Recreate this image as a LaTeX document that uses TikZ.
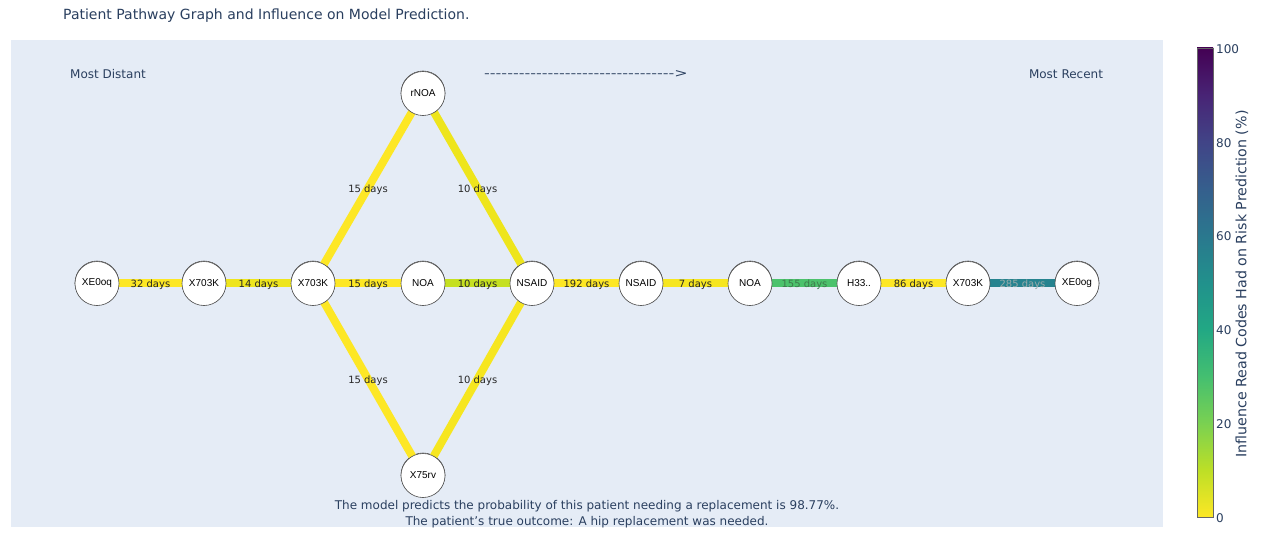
\documentclass[tikz,border=0pt]{standalone}
\usepackage{fontspec}
\setmainfont{DejaVu Sans}
\newfontfamily\nodefont{Liberation Sans}
\definecolor{bgc}{HTML}{E5ECF6}
\definecolor{txt}{HTML}{2A3F5F}
\definecolor{vA}{HTML}{440154}
\definecolor{vB}{HTML}{482475}
\definecolor{vC}{HTML}{414487}
\definecolor{vD}{HTML}{355F8D}
\definecolor{vE}{HTML}{2A788E}
\definecolor{vF}{HTML}{21918C}
\definecolor{vG}{HTML}{22A884}
\definecolor{vH}{HTML}{44BF70}
\definecolor{vI}{HTML}{7AD151}
\definecolor{vJ}{HTML}{BDDF26}
\definecolor{vK}{HTML}{FDE725}
\definecolor{eY}{HTML}{FDE725}
\definecolor{eY2}{HTML}{EEE51C}
\definecolor{eY3}{HTML}{F6E620}
\definecolor{eLime}{HTML}{C5E021}
\definecolor{eGreen}{HTML}{4CC26C}
\definecolor{eTeal}{HTML}{26838F}
\definecolor{lGreen}{HTML}{3D7A4C}
\definecolor{lGrey}{HTML}{9AABAB}
\newcommand{\dsh}{-{}}
\tikzset{
  pnode/.style={circle, draw=black!70, line width=0.6pt, fill=white, minimum size=44pt, inner sep=0pt, font=\nodefont\fontsize{10}{12}\selectfont},
  edge/.style={line width=8pt},
  elab/.style={font=\fontsize{10}{12}\selectfont, text=black!85, inner sep=1pt},
  plain/.style={font=\fontsize{12}{14}\selectfont, text=txt},
}
\begin{document}
\begin{tikzpicture}[x=1pt,y=-1pt]
\useasboundingbox (0,0) rectangle (1264,543);
\fill[white] (0,0) rectangle (1264,543);
\fill[bgc] (11,40) rectangle (1163,527);
% title
\node[anchor=west, inner sep=0pt, font=\fontsize{14}{16}\selectfont, text=txt] (title) at (63,16) {Patient Pathway Graph and Influence on Model Prediction.};
% header texts
\node[plain] (mdist) at (108,74) {Most Distant};
\node[plain] (mrec) at (1066,74) {Most Recent};
\node[plain, anchor=west, inner sep=0pt] (arrow) at (484,74) {\scalebox{1.33}[1]{\dsh\dsh\dsh\dsh\dsh\dsh\dsh\dsh\dsh\dsh\dsh\dsh\dsh\dsh\dsh\dsh\dsh\dsh\dsh\dsh\dsh\dsh\dsh\dsh\dsh\dsh\dsh\dsh\dsh\dsh\dsh\dsh\dsh{}>}};
% nodes
\node[pnode] (n1) at (97,283) {XE0oq};
\node[pnode] (n2) at (204,283) {X703K};
\node[pnode] (n3) at (313,283) {X703K};
\node[pnode] (n4) at (423,283) {NOA};
\node[pnode] (n5) at (532,283) {NSAID};
\node[pnode] (n6) at (641,283) {NSAID};
\node[pnode] (n7) at (750,283) {NOA};
\node[pnode] (n8) at (859,283) {H33..};
\node[pnode] (n9) at (968,283) {X703K};
\node[pnode] (n10) at (1077,283) {XE0og};
\node[pnode] (top) at (423,93) {rNOA};
\node[pnode] (bot) at (423,475) {X75rv};
% edges
\draw[edge, eY] (n1.center) -- (n2.center);
\draw[edge, eY2] (n2.center) -- (n3.center);
\draw[edge, eY] (n3.center) -- (n4.center);
\draw[edge, eLime] (n4.center) -- (n5.center);
\draw[edge, eY] (n5.center) -- (n6.center);
\draw[edge, eY3] (n6.center) -- (n7.center);
\draw[edge, eGreen] (n7.center) -- (n8.center);
\draw[edge, eY] (n8.center) -- (n9.center);
\draw[edge, eTeal] (n9.center) -- (n10.center);
\draw[edge, eY] (n3.center) -- (top.center);
\draw[edge, eY2] (top.center) -- (n5.center);
\draw[edge, eY] (n3.center) -- (bot.center);
\draw[edge, eY3] (bot.center) -- (n5.center);
% edge labels
\path (n1) -- node[elab, yshift=-1.5pt] {32 days} (n2);
\path (n2) -- node[elab, yshift=-1.5pt] {14 days} (n3);
\path (n3) -- node[elab, yshift=-1.5pt] {15 days} (n4);
\path (n4) -- node[elab, yshift=-1.5pt] {10 days} (n5);
\path (n5) -- node[elab, yshift=-1.5pt] {192 days} (n6);
\path (n6) -- node[elab, yshift=-1.5pt] {7 days} (n7);
\path (n7) -- node[elab, yshift=-1.5pt, text=lGreen] {155 days} (n8);
\path (n8) -- node[elab, yshift=-1.5pt] {86 days} (n9);
\path (n9) -- node[elab, yshift=-1.5pt, text=lGrey] {285 days} (n10);
\path (n3.center) -- node[elab, yshift=-1.5pt] {15 days} (top.center);
\path (top.center) -- node[elab, yshift=-1.5pt] {10 days} (n5.center);
\path (n3.center) -- node[elab, yshift=-1.5pt] {15 days} (bot.center);
\path (bot.center) -- node[elab, yshift=-1.5pt] {10 days} (n5.center);
% redraw nodes on top
\node[pnode, yshift=-0.5pt] at (n1) {XE0oq};
\node[pnode, yshift=-0.5pt] at (n2) {X703K};
\node[pnode, yshift=-0.5pt] at (n3) {X703K};
\node[pnode, yshift=-0.5pt] at (n4) {NOA};
\node[pnode, yshift=-0.5pt] at (n5) {NSAID};
\node[pnode, yshift=-0.5pt] at (n6) {NSAID};
\node[pnode, yshift=-0.5pt] at (n7) {NOA};
\node[pnode, yshift=-0.5pt] at (n8) {H33..};
\node[pnode, yshift=-0.5pt] at (n9) {X703K};
\node[pnode, yshift=-0.5pt] at (n10) {XE0og};
\node[pnode, yshift=-0.5pt] at (top) {rNOA};
\node[pnode, yshift=-0.5pt] at (bot) {X75rv};
% bottom text
\node[plain, align=center, font=\fontsize{12}{16}\selectfont] (outcome) at (587,514) {The model predicts the probability of this patient needing a replacement is 98.77\%.\\The patient's true outcome: A hip replacement was needed.};
% colorbar
\foreach \i/\ca/\cb in {0/vA/vB,1/vB/vC,2/vC/vD,3/vD/vE,4/vE/vF,5/vF/vG,6/vG/vH,7/vH/vI,8/vI/vJ,9/vJ/vK}{
  \shade[top color=\ca, bottom color=\cb] (1197,48+\i*46.9) rectangle (1213,48+\i*46.9+47.2);
}
\draw[black!60, line width=0.8pt] (1197,48) rectangle (1213,517);
\foreach \v/\yy in {100/49,80/142.8,60/236.6,40/330.4,20/424.2,0/518}{
  \node[plain, anchor=west, inner sep=0pt] at (1216,\yy) {\v};
}
\node[plain, rotate=90, font=\fontsize{14.2}{16}\selectfont] (cbtitle) at (1242,284) {Influence Read Codes Had on Risk Prediction (\%)};
\end{tikzpicture}
\end{document}
